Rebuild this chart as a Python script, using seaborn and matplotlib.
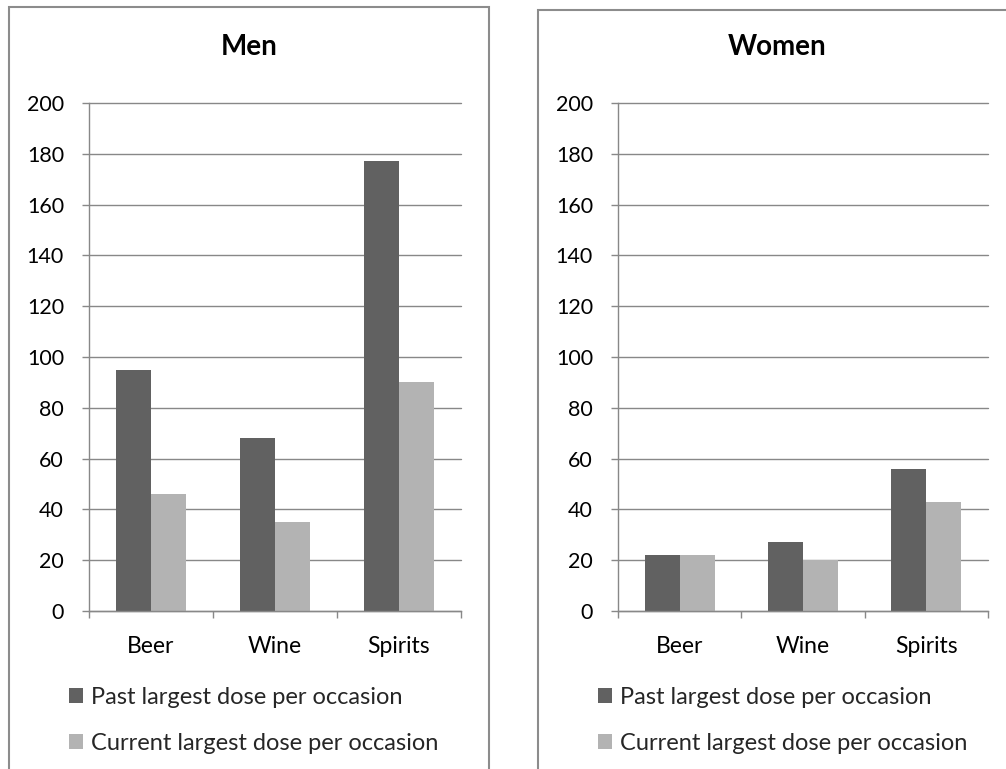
import numpy as np
import pandas as pd
import matplotlib
matplotlib.use("Agg")
import matplotlib.pyplot as plt
from matplotlib.patches import Rectangle
from matplotlib.ticker import FixedLocator
import seaborn as sns

# ---- data -------------------------------------------------------------
categories = ["Beer", "Wine", "Spirits"]
series_names = ["Past largest dose per occasion", "Current largest dose per occasion"]
men_past = [95, 68, 177]
men_current = [46, 35, 90]
women_past = [22, 27, 56]
women_current = [22, 20, 43]
y_ticks = [0, 20, 40, 60, 80, 100, 120, 140, 160, 180, 200]
panel_titles = ["Men", "Women"]

# ---- style ------------------------------------------------------------
sns.set_theme(style="white")
plt.rcParams["font.family"] = ["Lato", "DejaVu Sans"]

DARK = "#616161"
LIGHT = "#b3b3b3"
GRID = "#888888"
BOX = "#8c8c8c"

W, H = 1006, 769
fig = plt.figure(figsize=(W / 100, H / 100), dpi=100)


def fx(px):
    return px / W


def fy(py):
    return 1 - py / H


def long_frame(past, current):
    return pd.DataFrame({
        "drink": categories * 2,
        "dose": list(past) + list(current),
        "series": [series_names[0]] * len(categories) + [series_names[1]] * len(categories),
    })


panels = [
    # (data, axes left px, axes width px, box left px, box top px, title centre x, legend x)
    (long_frame(men_past, men_current), 89, 372, 9, 7, 249, 69),
    (long_frame(women_past, women_current), 618, 370, 538, 10, 777, 598),
]

for (df, ax_left, ax_w, box_left, box_top, title_x, leg_x), title in zip(panels, panel_titles):
    # outer chart frame
    fig.add_artist(Rectangle((fx(box_left), fy(H + 20)), 480 / W, (H + 20 - box_top) / H,
                             transform=fig.transFigure, fill=False, edgecolor=BOX,
                             linewidth=1.5, zorder=0))

    ax = fig.add_axes([fx(ax_left), fy(611), ax_w / W, 508 / H])
    sns.barplot(data=df, x="drink", y="dose", hue="series", order=categories,
                hue_order=series_names, palette=[DARK, LIGHT], width=0.565,
                saturation=1, errorbar=None, linewidth=0, ax=ax)

    ax.set_xlim(-0.5, 2.5)
    ax.set_ylim(0, 200)
    ax.set_yticks(y_ticks)
    ax.set_xlabel("")
    ax.set_ylabel("")
    ax.set_axisbelow(True)
    ax.yaxis.grid(True, color=GRID, linewidth=1.0)
    ax.xaxis.grid(False)
    for gl in ax.get_ygridlines():
        gl.set_clip_on(False)

    for side in ["top", "right"]:
        ax.spines[side].set_visible(False)
    for side in ["left", "bottom"]:
        ax.spines[side].set_color(GRID)
        ax.spines[side].set_linewidth(1.0)

    ax.tick_params(axis="y", left=True, length=5, width=1.0, color=GRID,
                   pad=13, labelsize=15.5, labelcolor="black")
    ax.xaxis.set_minor_locator(FixedLocator([-0.5, 0.5, 1.5, 2.5]))
    ax.tick_params(axis="x", which="major", bottom=True, length=0, pad=18,
                   labelsize=16.5, labelcolor="black")
    ax.tick_params(axis="x", which="minor", bottom=True, length=5, width=1.0,
                   color=GRID)

    handles, labels = ax.get_legend_handles_labels()
    ax.get_legend().remove()
    fig.legend(handles, labels, loc="upper left",
               bbox_to_anchor=(fx(leg_x), fy(687)), frameon=False,
               fontsize=17, handlelength=0.6, handleheight=0.6,
               handletextpad=0.34, labelspacing=1.05, borderpad=0,
               borderaxespad=0)

    fig.text(fx(title_x), fy(47), title, ha="center", va="center",
             fontsize=20, fontweight="bold", color="black")

fig.savefig("out.png", dpi=100)
